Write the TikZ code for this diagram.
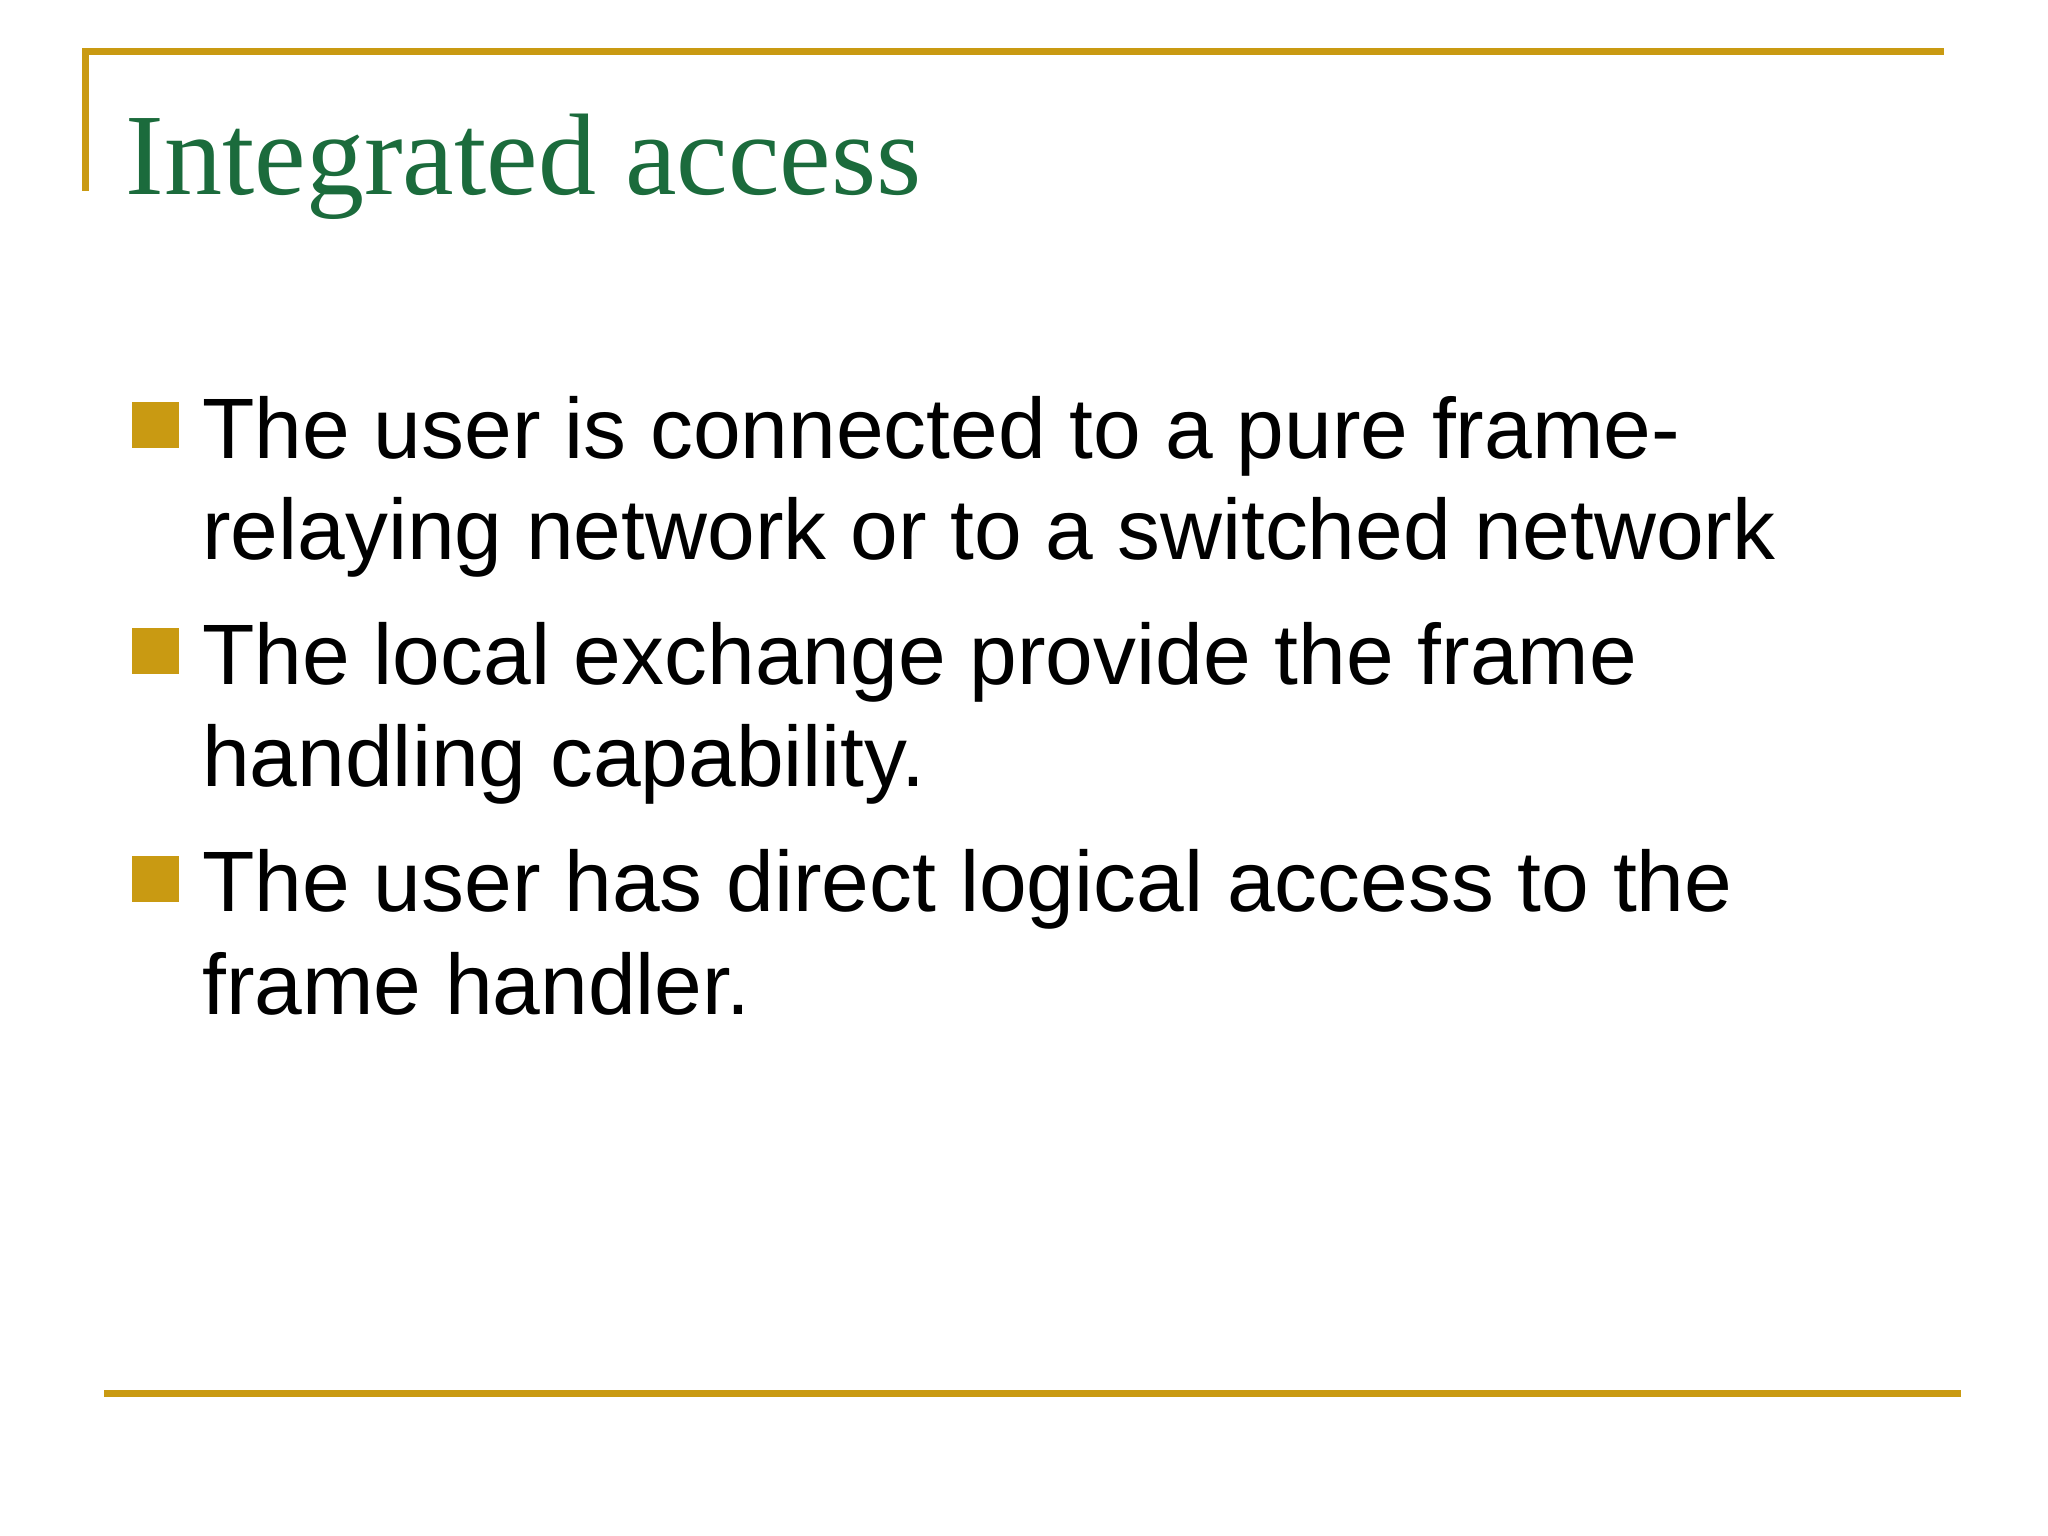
\documentclass[tikz,border=0pt]{standalone}
\usepackage{fontspec}
\setmainfont{Liberation Sans}
\newfontfamily\titlefont{Liberation Serif}
\definecolor{gold}{HTML}{C99A12}
\definecolor{ttl}{HTML}{1B6B3C}
\begin{document}
\begin{tikzpicture}[x=0.01317cm,y=-0.01317cm,
  rule/.style={draw=gold,line width=2.2pt},
  bul/.style={fill=gold},
  txt/.style={anchor=base west,inner sep=0pt,font=\fontsize{24.4}{29}\selectfont}]
\useasboundingbox (0,0) rectangle (1555,1166);
\draw[rule] (65,145) -- (65,39) -- (1476,39);
\draw[rule] (79,1058) -- (1489,1058);
\node[anchor=base west,inner sep=0pt,text=ttl,font=\titlefont\fontsize{33}{40}\selectfont] (title) at (95,148) {Integrated access};
\fill[bul] (100,305) rectangle (136,340);
\fill[bul] (100,477) rectangle (136,512);
\fill[bul] (100,650) rectangle (136,685);
\node[txt] (l1) at (153,348) {The user is connected to a pure frame-};
\node[txt] (l2) at (153,425) {relaying network or to a switched network};
\node[txt] (l3) at (153,520) {The local exchange provide the frame};
\node[txt] (l4) at (153,597) {handling capability.};
\node[txt] (l5) at (153,692) {The user has direct logical access to the};
\node[txt] (l6) at (153,770) {frame handler.};
\end{tikzpicture}
\end{document}
